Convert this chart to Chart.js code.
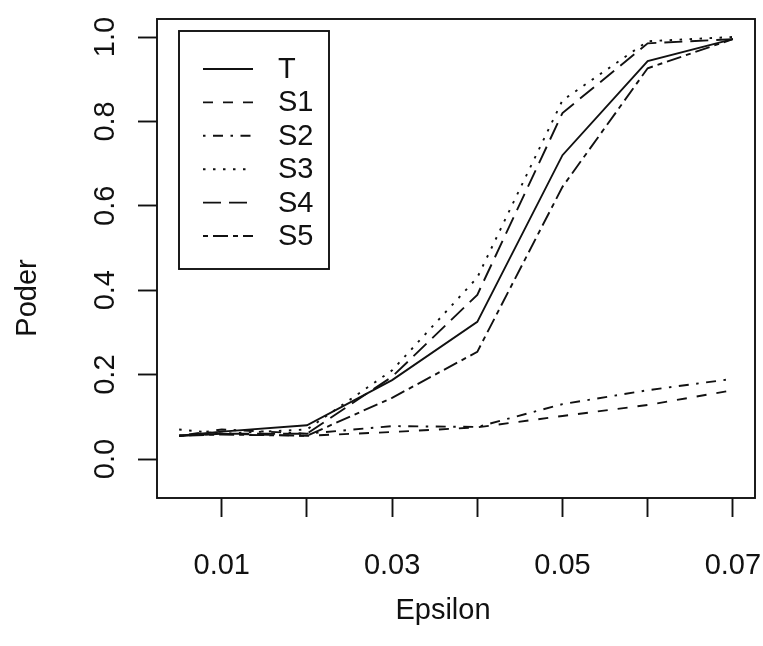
<!DOCTYPE html>
<html>
<head>
<meta charset="utf-8">
<script src="https://cdn.jsdelivr.net/npm/chart.js@4.4.1/dist/chart.umd.min.js"></script>
<style>
  html, body { margin: 0; padding: 0; background: #fff; }
</style>
</head>
<body>
<canvas id="grafico" width="763" height="646"></canvas>
<script>
// valores
const epsilon = [0.005, 0.01, 0.02, 0.03, 0.04, 0.05, 0.06, 0.07];
const poderT  = [0.055, 0.065, 0.080, 0.187, 0.325, 0.720, 0.943, 0.995];
const poderS1 = [0.055, 0.060, 0.055, 0.064, 0.075, 0.102, 0.128, 0.163];
const poderS2 = [0.055, 0.070, 0.060, 0.078, 0.076, 0.130, 0.163, 0.190];
const poderS3 = [0.070, 0.060, 0.070, 0.210, 0.430, 0.850, 0.990, 1.000];
const poderS4 = [0.055, 0.060, 0.060, 0.195, 0.389, 0.820, 0.985, 0.995];
const poderS5 = [0.055, 0.058, 0.055, 0.145, 0.254, 0.645, 0.926, 0.995];

const nomes = ['T', 'S1', 'S2', 'S3', 'S4', 'S5'];
const xTicks = [0.01, 0.02, 0.03, 0.04, 0.05, 0.06, 0.07];
const xTickLabels = ['0.01', '', '0.03', '', '0.05', '', '0.07'];
const yTicks = [0, 0.2, 0.4, 0.6, 0.8, 1.0];
const yTickLabels = ['0.0', '0.2', '0.4', '0.6', '0.8', '1.0'];

// tipos de linha do R (lty 1..6)
const tracos = [[], [10, 10], [2.5, 7.5, 10, 7.5], [2.5, 7.5], [18, 8], [5, 5, 15, 5]];
const series = [poderT, poderS1, poderS2, poderS3, poderS4, poderS5];

const FONTE = '"Liberation Sans", Arial, Helvetica, sans-serif';
const COR = '#111';
const LW = 1.9;

const datasets = series.map((ys, i) => ({
  label: nomes[i],
  data: epsilon.map((x, k) => ({ x: x, y: ys[k] })),
  borderColor: COR,
  borderWidth: LW,
  borderDash: tracos[i],
  pointRadius: 0,
  tension: 0,
  fill: false
}));

// caixa, rotulos do eixo y (rodados como no R) e titulos dos eixos
const caixaPlugin = {
  id: 'caixa',
  afterDatasetsDraw(chart) {
    const { ctx, chartArea: a, scales } = chart;
    ctx.save();
    ctx.strokeStyle = COR;
    ctx.lineWidth = LW;
    ctx.setLineDash([]);
    ctx.strokeRect(a.left, a.top, a.right - a.left, a.bottom - a.top);

    ctx.fillStyle = COR;
    ctx.font = '29px ' + FONTE;
    ctx.textAlign = 'center';
    ctx.textBaseline = 'alphabetic';
    yTicks.forEach((v, i) => {
      const y = scales.y.getPixelForValue(v);
      ctx.save();
      ctx.translate(a.left - 43, y);
      ctx.rotate(-Math.PI / 2);
      ctx.fillText(yTickLabels[i], 0, 0);
      ctx.restore();
    });

    ctx.textBaseline = 'middle';
    ctx.fillText('Epsilon', 443, 610.5);
    ctx.save();
    ctx.translate(27.5, 298);
    ctx.rotate(-Math.PI / 2);
    ctx.fillText('Poder', 0, 0);
    ctx.restore();
    ctx.restore();
  }
};

// legenda dentro do grafico
const legendaPlugin = {
  id: 'legenda',
  afterDatasetsDraw(chart) {
    const { ctx, chartArea: a } = chart;
    const bx = a.left + 22, by = a.top + 12;
    const bw = 150, bh = 238;
    ctx.save();
    ctx.fillStyle = '#fff';
    ctx.fillRect(bx, by, bw, bh);
    ctx.strokeStyle = COR;
    ctx.lineWidth = LW;
    ctx.setLineDash([]);
    ctx.strokeRect(bx, by, bw, bh);
    ctx.font = '29px ' + FONTE;
    ctx.textBaseline = 'middle';
    ctx.fillStyle = COR;
    chart.data.datasets.forEach((ds, i) => {
      const y = by + 38 + i * 33.4;
      ctx.setLineDash(ds.borderDash);
      ctx.beginPath();
      ctx.moveTo(bx + 24, y);
      ctx.lineTo(bx + 74, y);
      ctx.stroke();
      ctx.setLineDash([]);
      ctx.fillText(ds.label, bx + 99, y + 1);
    });
    ctx.restore();
  }
};

new Chart(document.getElementById('grafico').getContext('2d'), {
  type: 'line',
  data: { datasets: datasets },
  options: {
    responsive: false,
    animation: false,
    devicePixelRatio: 1,
    layout: { padding: { top: 19, right: 8, left: 0, bottom: 0 } },
    plugins: { legend: { display: false }, tooltip: { enabled: false } },
    scales: {
      x: {
        type: 'linear',
        min: 0.0024,
        max: 0.0726,
        afterBuildTicks: (s) => { s.ticks = xTicks.map(v => ({ value: v })); },
        afterFit: (s) => { s.height = 148; s.paddingLeft = 0; s.paddingRight = 0; },
        ticks: {
          autoSkip: false,
          maxRotation: 0,
          minRotation: 0,
          padding: 32,
          color: COR,
          font: { family: FONTE, size: 29 },
          callback: (v, i) => xTickLabels[i]
        },
        grid: { drawOnChartArea: false, drawTicks: true, tickLength: 19, tickWidth: LW, tickColor: COR },
        border: { display: false },
        title: { display: false }
      },
      y: {
        min: -0.0924,
        max: 1.0427,
        afterBuildTicks: (s) => { s.ticks = yTicks.map(v => ({ value: v })); },
        afterFit: (s) => { s.width = 157; s.paddingTop = 0; s.paddingBottom = 0; },
        ticks: { display: false },
        grid: { drawOnChartArea: false, drawTicks: true, tickLength: 19, tickWidth: LW, tickColor: COR },
        border: { display: false },
        title: { display: false }
      }
    }
  },
  plugins: [caixaPlugin, legendaPlugin]
});
</script>
</body>
</html>
